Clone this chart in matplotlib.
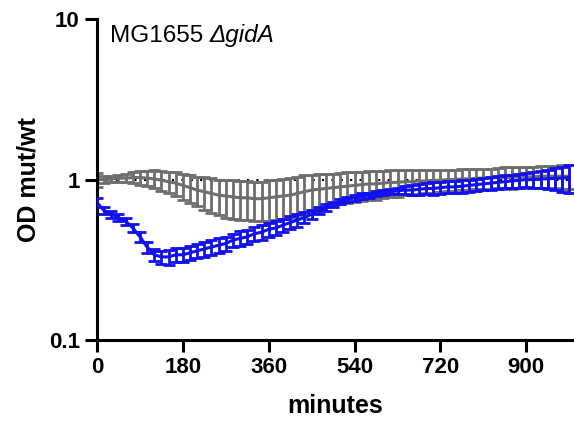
import matplotlib
matplotlib.use("Agg")
import matplotlib.pyplot as plt

plt.rcParams['font.family'] = ['Liberation Sans', 'DejaVu Sans']

# sampling times (minutes)
minutes = [0, 15, 30, 45, 60, 75, 90, 105, 120, 135, 150, 165, 180, 195, 210,
           225, 240, 255, 270, 285, 300, 315, 330, 345, 360, 375, 390, 405,
           420, 435, 450, 465, 480, 495, 510, 525, 540, 555, 570, 585, 600,
           615, 630, 645, 660, 675, 690, 705, 720, 735, 750, 765, 780, 795,
           810, 825, 840, 855, 870, 885, 900, 915, 930, 945, 960, 975, 990]

# grey series: mean and error of OD mut/wt
grey_mean = [1.00, 1.00, 1.01, 1.02, 1.02, 1.03, 1.03, 1.02, 1.01, 0.99, 0.97,
             0.95, 0.92, 0.89, 0.86, 0.84, 0.82, 0.80, 0.79, 0.78, 0.77, 0.77,
             0.76, 0.76, 0.77, 0.78, 0.79, 0.80, 0.82, 0.84, 0.86, 0.87, 0.88,
             0.89, 0.90, 0.91, 0.92, 0.93, 0.94, 0.94, 0.95, 0.96, 0.96, 0.97,
             0.97, 0.98, 0.98, 0.99, 0.99, 1.00, 1.00, 1.01, 1.01, 1.02, 1.02,
             1.02, 1.03, 1.03, 1.03, 1.04, 1.04, 1.04, 1.05, 1.05, 1.05, 1.05,
             1.05]
grey_err = [0.10, 0.05, 0.04, 0.05, 0.06, 0.08, 0.10, 0.11, 0.13, 0.14, 0.15,
            0.16, 0.17, 0.18, 0.18, 0.19, 0.20, 0.20, 0.21, 0.21, 0.21, 0.21,
            0.21, 0.21, 0.22, 0.22, 0.22, 0.22, 0.22, 0.22, 0.21, 0.21, 0.21,
            0.20, 0.20, 0.20, 0.20, 0.19, 0.19, 0.19, 0.18, 0.18, 0.18, 0.17,
            0.17, 0.17, 0.16, 0.16, 0.15, 0.15, 0.15, 0.15, 0.15, 0.15, 0.15,
            0.15, 0.15, 0.16, 0.16, 0.16, 0.16, 0.16, 0.17, 0.17, 0.17, 0.18,
            0.18]

# blue series: mean and error of OD mut/wt
blue_mean = [0.72, 0.64, 0.61, 0.58, 0.55, 0.50, 0.44, 0.38, 0.34, 0.33, 0.33,
             0.34, 0.34, 0.35, 0.36, 0.37, 0.38, 0.39, 0.40, 0.42, 0.43, 0.44,
             0.46, 0.47, 0.49, 0.50, 0.52, 0.54, 0.56, 0.58, 0.61, 0.64, 0.67,
             0.70, 0.73, 0.75, 0.77, 0.79, 0.80, 0.82, 0.83, 0.84, 0.85, 0.86,
             0.86, 0.87, 0.88, 0.88, 0.89, 0.90, 0.90, 0.91, 0.92, 0.93, 0.94,
             0.95, 0.96, 0.97, 0.98, 0.99, 1.00, 1.00, 1.01, 1.01, 1.02, 1.02,
             1.03]
blue_err = [0.05, 0.03, 0.03, 0.03, 0.03, 0.03, 0.03, 0.03, 0.03, 0.03, 0.035,
            0.035, 0.035, 0.035, 0.035, 0.04, 0.04, 0.04, 0.04, 0.04, 0.045,
            0.045, 0.045, 0.05, 0.05, 0.05, 0.05, 0.05, 0.05, 0.045, 0.04, 0.03,
            0.03, 0.03, 0.03, 0.03, 0.03, 0.03, 0.03, 0.03, 0.03, 0.03, 0.04,
            0.05, 0.06, 0.07, 0.07, 0.08, 0.08, 0.08, 0.08, 0.08, 0.08, 0.08,
            0.08, 0.09, 0.09, 0.09, 0.09, 0.10, 0.10, 0.11, 0.12, 0.14, 0.16,
            0.18, 0.20]

fig = plt.figure(figsize=(5.74, 4.22), dpi=100)
ax = fig.add_axes([0.169, 0.194, 0.831, 0.761])

ax.axhline(1, color='black', lw=1.5, linestyle=(0, (1, 3.5)), zorder=1)

ax.errorbar(minutes, grey_mean, yerr=grey_err, color='#6e6e6e', lw=2.2,
            elinewidth=2.0, capsize=4.5, capthick=2.0, zorder=2)
ax.errorbar(minutes, blue_mean, yerr=blue_err, color='#1010f0', lw=2.2,
            elinewidth=2.0, capsize=4.5, capthick=2.0, zorder=3)

ax.set_yscale('log')
ax.set_ylim(0.1, 10)
ax.set_xlim(0, 1000)
ax.set_yticks([0.1, 1, 10])
ax.set_yticklabels(['0.1', '1', '10'])
ax.minorticks_off()
ax.set_xticks([0, 180, 360, 540, 720, 900])

for side in ['top', 'right']:
    ax.spines[side].set_visible(False)
for side in ['left', 'bottom']:
    ax.spines[side].set_linewidth(2.2)
ax.tick_params(width=2.2, length=8.5, labelsize=16, pad=4)
for lab in ax.get_xticklabels() + ax.get_yticklabels():
    lab.set_fontweight('bold')

ax.set_xlabel('minutes', fontsize=18, fontweight='bold', labelpad=11)
ax.set_ylabel('OD mut/wt', fontsize=18, fontweight='bold', labelpad=6)

# strain label, with the gene deletion in italics
t1 = ax.text(0.027, 0.98, 'MG1655 ', transform=ax.transAxes,
             fontsize=17.5, va='top', ha='left')
ax.annotate('ΔgidA', xy=(1, 0), xycoords=t1, va='bottom', ha='left',
            fontsize=17.5, fontstyle='italic')

fig.savefig('out.png', dpi=100)
